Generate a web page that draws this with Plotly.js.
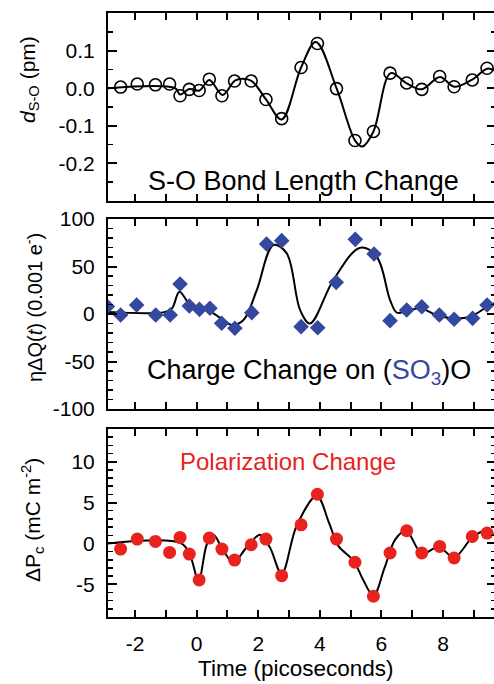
<!DOCTYPE html>
<html>
<head>
<meta charset="utf-8">
<script src="https://cdn.plot.ly/plotly-3.0.1.min.js"></script>
<style>
html, body { margin: 0; padding: 0; overflow: hidden; background: #fff; }
#chart { width: 500px; height: 684px; }
</style>
</head>
<body>
<div id="chart"></div>
<script>
// ---- Data ----
// Measurement times (ps)
const timesPs = [-2.47, -1.93, -1.34, -0.88, -0.54, -0.24, 0.08, 0.41, 0.82, 1.23, 1.77, 2.25, 2.76, 3.39, 3.92, 4.54, 5.14, 5.74, 6.28, 6.82, 7.31, 7.89, 8.36, 8.95, 9.43];

// Panel 1: S-O bond length change (pm)
const bondLength = [0.003, 0.011, 0.009, 0.011, -0.020, -0.003, -0.006, 0.024, -0.020, 0.019, 0.019, -0.030, -0.081, 0.055, 0.119, -0.001, -0.139, -0.115, 0.040, 0.014, -0.003, 0.031, 0.004, 0.022, 0.053];
const bondFitT = [-2.88, -0.7, -0.54, -0.24, 0.09, 0.41, 0.84, 1.24, 1.5, 1.79, 2.25, 2.76, 3.39, 3.87, 4.55, 5.15, 5.38, 5.74, 6.3, 6.82, 7.31, 7.9, 8.36, 8.93, 9.44, 9.72];
const bondFitY = [0, 0, -0.017, -0.002, -0.006, 0.022, -0.018, 0.020, 0.025, 0.019, -0.030, -0.083, 0.055, 0.123, -0.002, -0.140, -0.155, -0.115, 0.040, 0.013, -0.003, 0.030, 0.004, 0.022, 0.052, 0.045];

// Panel 2: charge change on (SO3)O (0.001 e-)
const chargeTimes = [-2.9, -2.47, -1.95, -1.33, -0.86, -0.54, -0.24, 0.09, 0.43, 0.81, 1.24, 1.79, 2.27, 2.76, 3.39, 3.93, 4.53, 5.15, 5.76, 6.28, 6.82, 7.31, 7.88, 8.36, 8.96, 9.43];
const chargeValues = [8, -1, 9.5, -1, -1, 31.6, 8.4, 4.9, 6, -9.8, -15, 1.4, 73.7, 77.2, -13.3, -14.4, 33.3, 78.6, 63.2, -7, 4.2, 7.7, -1, -5.6, -4.6, 9.5];
const chargeFitT = [-2.88, -1.05, -0.8, -0.56, -0.21, 0.11, 0.44, 0.87, 1.14, 1.52, 1.95, 2.49, 2.92, 3.36, 3.68, 4.44, 5.31, 5.85, 6.28, 6.5, 6.8, 7.25, 7.79, 8.33, 8.88, 9.47, 9.72];
const chargeFitY = [2, 2, 6, 23.5, 9.5, 7, 2.4, -6.3, -11.6, -6.3, 25, 72.6, 64, 4, -10, 35.8, 69.8, 60, 14.7, 1.5, 3, 6, -1, -4.6, -2.8, 8.4, 12];

// Panel 3: polarization change (mC m^-2)
const polarization = [-0.69, 0.53, 0.25, -1.1, 0.73, -1.3, -4.47, 0.66, -0.69, -2.03, -0.16, 0.53, -3.94, 2.28, 6.02, 0.53, -2.3, -6.46, -1.17, 1.55, -1.17, -0.37, -1.78, 0.85, 1.27];
const polFitT = [-2.88, -0.5, -0.21, 0.06, 0.33, 0.54, 0.87, 1.19, 1.62, 2.06, 2.38, 2.76, 3.25, 3.9, 4.3, 4.6, 5.09, 5.4, 5.74, 6.1, 6.45, 6.8, 7.31, 7.86, 8.36, 8.9, 9.3, 9.72];
const polFitY = [0, 0, -1.5, -4.55, -0.1, 1.06, -0.9, -2.3, -0.5, 1.06, -0.5, -3.7, 2.2, 5.8, 2.5, -0.3, -2.1, -4.4, -6.4, -3, 0.5, 1.55, -1.2, -0.45, -1.7, 0.5, 1.5, 0.9];

// Tick labels (hyphen-minus as in the reference)
const xTickVals = [-2, 0, 2, 4, 6, 8];
const xTickText = ['-2', '0', '2', '4', '6', '8'];
const y1TickVals = [-0.2, -0.1, 0, 0.1];
const y1TickText = ['-0.2', '-0.1', '0.0', '0.1'];
const y2TickVals = [-100, -50, 0, 50, 100];
const y2TickText = ['-100', '-50', '0', '50', '100'];
const y3TickVals = [-5, 0, 5, 10];
const y3TickText = ['-5', '0', '5', '10'];

// ---- Styling ----
const FONT = 'Liberation Sans, Arial, Helvetica, sans-serif';
const BLUE = '#3448a0';
const RED = '#e8221c';

const traces = [
  { x: bondFitT, y: bondFitY, xaxis: 'x3', yaxis: 'y', mode: 'lines',
    line: { color: '#000', width: 2, shape: 'spline', smoothing: 1 }, hoverinfo: 'skip' },
  { x: timesPs, y: bondLength, xaxis: 'x3', yaxis: 'y', mode: 'markers',
    marker: { symbol: 'circle-open', size: 12, color: '#000', line: { width: 1.6, color: '#000' } } },

  { x: chargeFitT, y: chargeFitY, xaxis: 'x2', yaxis: 'y2', mode: 'lines',
    line: { color: '#000', width: 2, shape: 'spline', smoothing: 1 }, hoverinfo: 'skip' },
  { x: chargeTimes, y: chargeValues, xaxis: 'x2', yaxis: 'y2', mode: 'markers',
    marker: { symbol: 'diamond', size: 12, color: BLUE } },

  { x: polFitT, y: polFitY, xaxis: 'x', yaxis: 'y3', mode: 'lines',
    line: { color: '#000', width: 2, shape: 'spline', smoothing: 1 }, hoverinfo: 'skip' },
  { x: timesPs, y: polarization, xaxis: 'x', yaxis: 'y3', mode: 'markers',
    marker: { symbol: 'circle', size: 13, color: RED } }
];

const common = {
  showline: true, linecolor: '#000', linewidth: 2, mirror: 'ticks',
  ticks: 'inside', tickcolor: '#000', tickwidth: 2,
  showgrid: false, zeroline: false,
  tickfont: { family: FONT, size: 21, color: '#000' }
};

function xAxis(anchor, showLabels) {
  return Object.assign({}, common, {
    anchor: anchor, range: [-2.88, 9.72], domain: [0, 1],
    tickmode: 'array', tickvals: xTickVals, ticktext: xTickText,
    ticklen: 7, showticklabels: showLabels, ticklabelstandoff: 7,
    minor: { tickmode: 'linear', tick0: 0, dtick: 1, ticks: 'inside', ticklen: 7, tickwidth: 2, tickcolor: '#000' }
  });
}
function yAxis(domain, range, tickvals, ticktext, minorDtick) {
  return Object.assign({}, common, {
    anchor: 'x', domain: domain, range: range,
    tickmode: 'array', tickvals: tickvals, ticktext: ticktext, ticklen: 9, ticklabelstandoff: 7,
    minor: { tickmode: 'linear', tick0: 0, dtick: minorDtick, ticks: 'inside', ticklen: 5, tickwidth: 1.5, tickcolor: '#000' }
  });
}

const H = 604; // plot-area height in px (13..617)
function frac(py) { return (617 - py) / H; }
function fx(px) { return (px - 108) / 388; }

const layout = {
  width: 500, height: 684,
  margin: { l: 108, r: 4, t: 13, b: 67 },
  paper_bgcolor: '#fff', plot_bgcolor: '#fff',
  showlegend: false,
  font: { family: FONT, color: '#000' },
  xaxis: xAxis('y3', true),
  xaxis2: Object.assign(xAxis('y2', false), { matches: 'x' }),
  xaxis3: Object.assign(xAxis('y', false), { matches: 'x' }),
  yaxis: Object.assign(yAxis([frac(201), 1], [-0.3, 0.2], y1TickVals, y1TickText, 0.05), { anchor: 'x3' }),
  yaxis2: Object.assign(yAxis([frac(409), frac(219)], [-100, 100], y2TickVals, y2TickText, 10), { anchor: 'x2' }),
  yaxis3: Object.assign(yAxis([0, frac(429)], [-9, 14], y3TickVals, y3TickText, 1), { anchor: 'x' }),
  annotations: [
    { xref: 'paper', yref: 'paper', x: fx(303), y: frac(181), text: 'S-O Bond Length Change',
      showarrow: false, font: { family: FONT, size: 27, color: '#000' }, xanchor: 'center', yanchor: 'middle' },
    { xref: 'paper', yref: 'paper', x: fx(309), y: frac(372), text: 'Charge Change on (<span style="color:' + BLUE + '">SO<sub>3</sub></span>)O',
      showarrow: false, font: { family: FONT, size: 27, color: '#000' }, xanchor: 'center', yanchor: 'middle' },
    { xref: 'paper', yref: 'paper', x: fx(288), y: frac(461), text: 'Polarization Change',
      showarrow: false, font: { family: FONT, size: 24, color: RED }, xanchor: 'center', yanchor: 'middle' },
    { xref: 'paper', yref: 'paper', x: fx(295), y: frac(668), text: 'Time (picoseconds)',
      showarrow: false, font: { family: FONT, size: 22.5, color: '#000' }, xanchor: 'center', yanchor: 'middle' },
    { xref: 'paper', yref: 'paper', x: fx(29), y: frac(80), textangle: -90, text: '<i>d</i><sub>S-O</sub> (pm)',
      showarrow: false, font: { family: FONT, size: 21, color: '#000' }, xanchor: 'center', yanchor: 'middle' },
    { xref: 'paper', yref: 'paper', x: fx(33), y: frac(308), textangle: -90, text: 'ηΔQ(<i>t</i>) (0.001 e<sup>-</sup>)',
      showarrow: false, font: { family: FONT, size: 20, color: '#000' }, xanchor: 'center', yanchor: 'middle' },
    { xref: 'paper', yref: 'paper', x: fx(32), y: frac(520), textangle: -90, text: 'ΔP<sub>c</sub> (mC m<sup>-2</sup>)',
      showarrow: false, font: { family: FONT, size: 21, color: '#000' }, xanchor: 'center', yanchor: 'middle' }
  ]
};

Plotly.newPlot('chart', traces, layout, { displayModeBar: false, staticPlot: true });
</script>
</body>
</html>
